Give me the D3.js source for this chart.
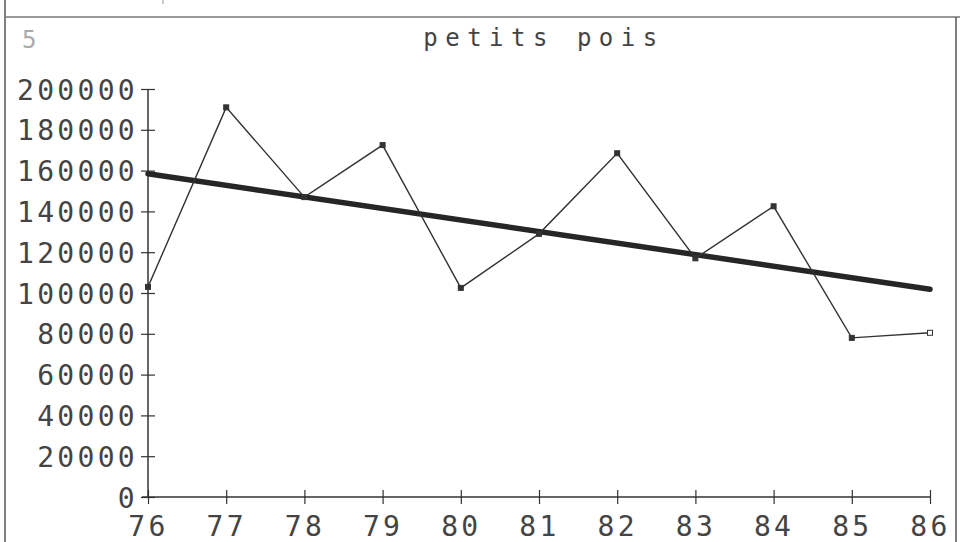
<!DOCTYPE html>
<html>
<head>
<meta charset="utf-8">
<script src="https://cdn.jsdelivr.net/npm/d3@7"></script>
<style>
  html, body { margin: 0; padding: 0; background: #fff; }
  svg { display: block; }
  .lbl { font-family: "DejaVu Sans Mono", monospace; fill: #444; }
</style>
</head>
<body>
<svg id="chart" width="960" height="542"></svg>
<script>
// Annual yield, petits pois, 1976–1986
const years = [76, 77, 78, 79, 80, 81, 82, 83, 84, 85, 86];
const values = [103000, 191000, 147000, 172500, 102500, 129000, 168500, 117000, 142500, 78000, 80500];
const yTicks = [0, 20000, 40000, 60000, 80000, 100000, 120000, 140000, 160000, 180000, 200000];
const title = "petits pois";

const svg = d3.select("#chart");
const W = 960, H = 542;

const x = d3.scaleLinear().domain([76, 86]).range([148, 930]);
const y = d3.scaleLinear().domain([0, 200000]).range([497, 89]);

// page frame
const frame = svg.append("g").attr("stroke", "#555").attr("fill", "none");
frame.append("line").attr("x1", 5).attr("x2", 5).attr("y1", 0).attr("y2", H).attr("stroke-width", 1.5);
frame.append("line").attr("x1", 5).attr("x2", W).attr("y1", 17).attr("y2", 17).attr("stroke-width", 1.5).attr("stroke", "#777");
frame.append("line").attr("x1", 956).attr("x2", 956).attr("y1", 17).attr("y2", H).attr("stroke-width", 1.5);
frame.append("line").attr("x1", 163).attr("x2", 163).attr("y1", 0).attr("y2", 4).attr("stroke-width", 1).attr("stroke", "#999");

// page marker and title
svg.append("text").attr("class", "lbl").attr("x", 22).attr("y", 48)
  .attr("font-size", 24).style("fill", "#aaa").text("5");
svg.append("text").attr("class", "lbl").attr("x", 544).attr("y", 46)
  .attr("text-anchor", "middle").attr("font-size", 24).attr("letter-spacing", 7.5)
  .text(title);

// y axis
const yAxis = d3.axisLeft(y).tickValues(yTicks).tickSize(7).tickPadding(5).tickFormat(d3.format("d"));
const gy = svg.append("g").attr("transform", `translate(${x(76)},0)`).call(yAxis);
gy.select(".domain").attr("stroke", "#333").attr("stroke-width", 1.5).attr("d", `M0,${y(0)}V${y(200000)}`);
gy.selectAll(".tick line").attr("stroke", "#333").attr("stroke-width", 1.2).attr("x1", 7);
gy.selectAll(".tick text").attr("class", "lbl").attr("font-size", 28).attr("letter-spacing", 3.3)
  .attr("dy", "0.36em").attr("x", -10).attr("fill", null);

// x axis
const xAxis = d3.axisBottom(x).tickValues(years).tickSize(7).tickPadding(15).tickFormat(d3.format("d"));
const gx = svg.append("g").attr("transform", `translate(0,${y(0)})`).call(xAxis);
gx.select(".domain").attr("stroke", "#333").attr("stroke-width", 1.5).attr("d", `M${x(76) - 6},0H${x(86)}`);
gx.selectAll(".tick line").attr("stroke", "#333").attr("stroke-width", 1.2).attr("y1", -7);
gx.selectAll(".tick text").attr("class", "lbl").attr("font-size", 28).attr("letter-spacing", 3.3)
  .attr("dy", "0.6em").attr("fill", null);

// least-squares trend of the series
const n = years.length;
const mx = d3.mean(years), my = d3.mean(values);
const slope = d3.sum(years, (v, i) => (v - mx) * (values[i] - my)) / d3.sum(years, v => (v - mx) * (v - mx));
const trend = yr => my + slope * (yr - mx);
const trendPts = [76, 86].map(yr => [yr, trend(yr)]);

const line = d3.line().x(d => x(d[0])).y(d => y(d[1]));

svg.append("path").datum(trendPts).attr("d", line)
  .attr("fill", "none").attr("stroke", "#262626").attr("stroke-width", 5.5).attr("stroke-linecap", "round");

const series = years.map((yr, i) => [yr, values[i]]);
svg.append("path").datum(series).attr("d", line)
  .attr("fill", "none").attr("stroke", "#333").attr("stroke-width", 1.4);

// point markers; the last year is drawn open
svg.append("g").selectAll("rect").data(series).join("rect")
  .attr("x", d => x(d[0]) - 2.5).attr("y", d => y(d[1]) - 2.5)
  .attr("width", 5).attr("height", 5)
  .attr("fill", (d, i) => i === n - 1 ? "#fff" : "#333")
  .attr("stroke", "#333").attr("stroke-width", 1);
</script>
</body>
</html>
